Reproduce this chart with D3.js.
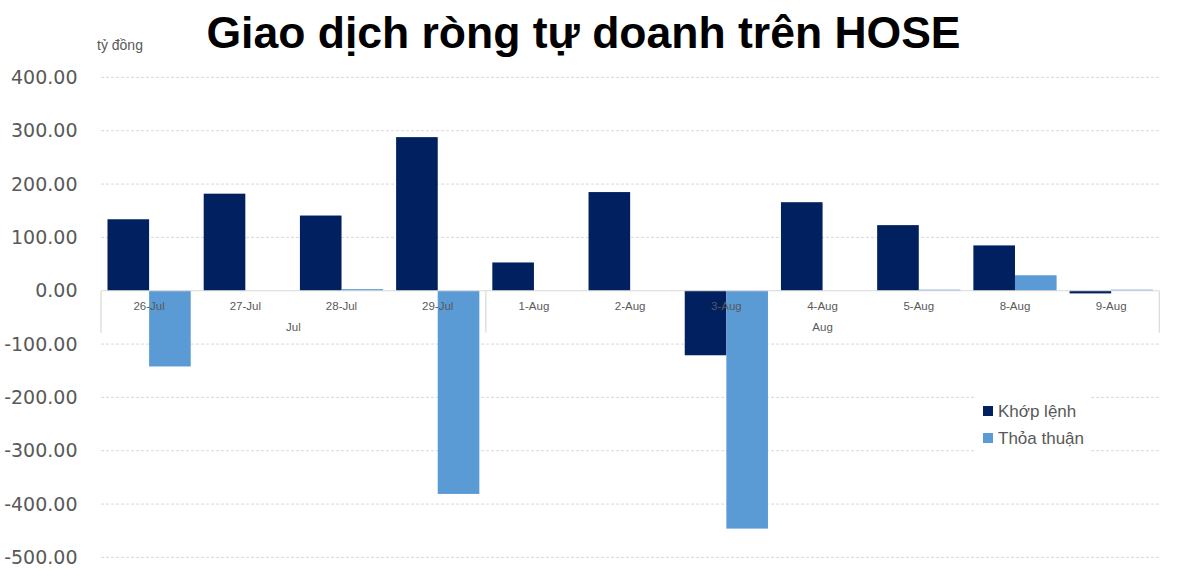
<!DOCTYPE html>
<html>
<head>
<meta charset="utf-8">
<script src="https://cdn.jsdelivr.net/npm/d3@7"></script>
<style>
  html, body { margin: 0; padding: 0; background: #fff; }
  svg { display: block; }
</style>
</head>
<body>
<svg id="chart" width="1200" height="580"></svg>
<script>
// ---- data ----
const days = ["26-Jul", "27-Jul", "28-Jul", "29-Jul", "1-Aug", "2-Aug", "3-Aug", "4-Aug", "5-Aug", "8-Aug", "9-Aug"];
const months = ["Jul", "Jul", "Jul", "Jul", "Aug", "Aug", "Aug", "Aug", "Aug", "Aug", "Aug"];
const khopLenh = [134, 182, 141, 288, 53, 185, -121, 166, 123, 85, -5];
const thoaThuan = [-142, 0, 3, -381, 0, 0, -446, 0, 2, 29, 2];
const seriesNames = ["Khớp lệnh", "Thỏa thuận"];
const seriesColors = ["#002060", "#5B9BD5"];
const yTicks = [400, 300, 200, 100, 0, -100, -200, -300, -400, -500];
const titleText = "Giao dịch ròng tự doanh trên HOSE";
const unitText = "tỷ đồng";

// ---- layout ----
const svg = d3.select("#chart");
const plotLeft = 101, plotRight = 1159.3;
const y = d3.scaleLinear().domain([-500, 400]).range([557.4, 77.4]);
const x0 = d3.scaleBand().domain(days.map((d, i) => i)).range([plotLeft, plotRight]).padding(0);
const x1 = d3.scaleBand().domain([0, 1]).range([0, x0.bandwidth()]).paddingInner(0).paddingOuter(0.156);

const textColor = "#595959";
const gridColor = "#d9d9d9";

// title
svg.append("text")
  .attr("x", 583.5).attr("y", 48)
  .attr("text-anchor", "middle")
  .attr("font-family", "Liberation Sans, Arial, sans-serif")
  .attr("font-weight", "bold")
  .attr("font-size", 44.5)
  .attr("fill", "#000")
  .text(titleText);

// unit label
svg.append("text")
  .attr("x", 97).attr("y", 50)
  .attr("font-family", "Liberation Sans, Arial, sans-serif")
  .attr("font-size", 14)
  .attr("fill", textColor)
  .text(unitText);

// gridlines
svg.append("g").selectAll("line")
  .data(yTicks.filter(t => t !== 0))
  .join("line")
  .attr("x1", plotLeft).attr("x2", plotRight)
  .attr("y1", d => y(d)).attr("y2", d => y(d))
  .attr("stroke", gridColor)
  .attr("stroke-width", 1)
  .attr("stroke-dasharray", "3,2");

// y axis labels (hyphen minus, as in the reference)
const fmt = d3.formatLocale({ decimal: ".", thousands: ",", grouping: [3], currency: ["", ""], minus: "-" }).format(".2f");
const yAxis = d3.axisLeft(y).tickValues(yTicks).tickFormat(fmt).tickSize(0).tickPadding(0);
const yg = svg.append("g").attr("transform", "translate(77.5,0)").call(yAxis);
yg.select(".domain").remove();
yg.selectAll("text")
  .attr("font-family", "DejaVu Sans, Verdana, sans-serif")
  .attr("font-size", 19)
  .attr("fill", textColor);

// bars
const series = [khopLenh, thoaThuan];
const barG = svg.append("g");
series.forEach((vals, s) => {
  barG.append("g").selectAll("rect")
    .data(vals.map((v, i) => ({ v, i })))
    .join("rect")
    .attr("x", d => x0(d.i) + x1(s))
    .attr("width", x1.bandwidth())
    .attr("y", d => y(Math.max(0, d.v)))
    .attr("height", d => Math.abs(y(d.v) - y(0)))
    .attr("fill", seriesColors[s]);
});

// category axis (multi-level)
const axisG = svg.append("g");
axisG.append("line")
  .attr("x1", plotLeft).attr("x2", plotRight)
  .attr("y1", y(0)).attr("y2", y(0))
  .attr("stroke", gridColor).attr("stroke-width", 1.2);

// month groups
const monthGroups = [];
months.forEach((m, i) => {
  const last = monthGroups[monthGroups.length - 1];
  if (last && last.name === m) last.end = i;
  else monthGroups.push({ name: m, start: i, end: i });
});
const sepXs = [plotLeft].concat(monthGroups.map(g => x0(g.end) + x0.bandwidth()));
axisG.selectAll("line.sep")
  .data(sepXs)
  .join("line")
  .attr("class", "sep")
  .attr("x1", d => d).attr("x2", d => d)
  .attr("y1", y(0)).attr("y2", y(0) + 42)
  .attr("stroke", gridColor).attr("stroke-width", 1.2);

axisG.selectAll("text.day")
  .data(days)
  .join("text")
  .attr("class", "day")
  .attr("x", (d, i) => x0(i) + x0.bandwidth() / 2)
  .attr("y", y(0) + 19)
  .attr("text-anchor", "middle")
  .attr("font-family", "Liberation Sans, Arial, sans-serif")
  .attr("font-size", 11.5)
  .attr("fill", textColor)
  .text(d => d);

axisG.selectAll("text.month")
  .data(monthGroups)
  .join("text")
  .attr("class", "month")
  .attr("x", g => (x0(g.start) + x0(g.end) + x0.bandwidth()) / 2)
  .attr("y", y(0) + 40)
  .attr("text-anchor", "middle")
  .attr("font-family", "Liberation Sans, Arial, sans-serif")
  .attr("font-size", 11.5)
  .attr("fill", textColor)
  .text(g => g.name);

// legend
const lg = svg.append("g");
lg.append("rect").attr("x", 975).attr("y", 393).attr("width", 114).attr("height", 62).attr("fill", "#fff");
seriesNames.forEach((name, s) => {
  const cy = 411 + s * 27;
  lg.append("rect")
    .attr("x", 983).attr("y", cy - 5).attr("width", 10).attr("height", 10)
    .attr("fill", seriesColors[s]);
  lg.append("text")
    .attr("x", 998).attr("y", cy + 6)
    .attr("font-family", "Liberation Sans, Arial, sans-serif")
    .attr("font-size", 17)
    .attr("fill", textColor)
    .text(name);
});
</script>
</body>
</html>
